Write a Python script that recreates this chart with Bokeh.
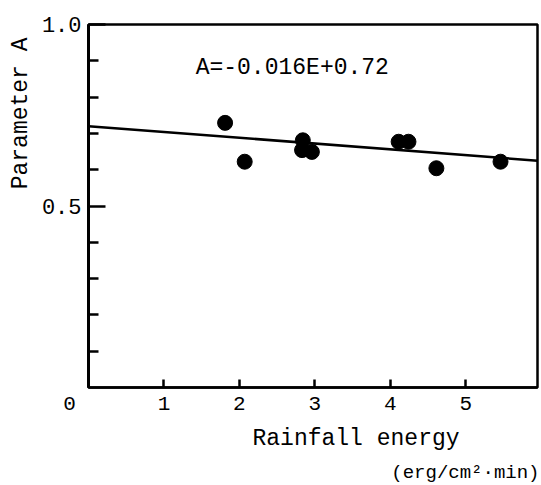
from bokeh.embed import file_html
from bokeh.models import FixedTicker, Label, NumeralTickFormatter, Range1d, Title
from bokeh.plotting import figure
from bokeh.resources import INLINE

# Measured rainfall energy vs. fitted parameter A
energy = [1.81, 2.07, 2.84, 2.83, 2.96, 4.11, 4.24, 4.61, 5.46]
param_a = [0.729, 0.622, 0.681, 0.654, 0.649, 0.677, 0.677, 0.604, 0.622]

# Regression line A = slope * E + intercept
slope = -0.016
intercept = 0.72
fit_x = [0.0, 5.95]
fit_y = [slope * e + intercept for e in fit_x]

x_ticks = [0, 1, 2, 3, 4, 5]
y_major = [0.5, 1.0]
y_minor = [0.1, 0.2, 0.3, 0.4, 0.6, 0.7, 0.8, 0.9]

MONO = "Liberation Mono"
NBSP = "\u00a0"

p = figure(
    width=541, height=485,
    x_range=Range1d(0, 5.95), y_range=Range1d(0, 1.0),
    output_backend="svg", toolbar_location=None,
    min_border_left=88, min_border_right=4,
    min_border_top=24, min_border_bottom=97,
)
p.grid.visible = False
p.outline_line_color = "black"
p.outline_line_width = 2.5
p.background_fill_color = "white"
p.border_fill_color = "white"

# x axis: inward ticks only; the origin label sits left of the corner
xa = p.xaxis[0]
xa.ticker = FixedTicker(ticks=x_ticks)
xa.major_label_overrides = {0: "0" + NBSP * 3}
xa.axis_line_width = 2.5
xa.major_tick_in = 8
xa.major_tick_out = 0
xa.minor_tick_line_color = None
xa.major_tick_line_width = 2.5
xa.major_label_text_font = MONO
xa.major_label_text_font_size = "21px"
xa.major_label_text_color = "black"
xa.major_label_standoff = 5

# y axis: long tick at labelled values, short ticks every 0.1
ya = p.yaxis[0]
ya.ticker = FixedTicker(ticks=y_major, minor_ticks=y_minor)
ya.formatter = NumeralTickFormatter(format="0.0")
ya.axis_line_width = 3
ya.major_tick_in = 17
ya.major_tick_out = 0
ya.minor_tick_in = 10
ya.minor_tick_out = 0
ya.major_tick_line_width = 2.5
ya.minor_tick_line_width = 2.5
ya.minor_tick_line_color = "black"
ya.major_label_text_font = MONO
ya.major_label_text_font_size = "22px"
ya.major_label_text_color = "black"
ya.major_label_standoff = 7

# fitted line and observations
p.line(fit_x, fit_y, line_color="black", line_width=2.5)
p.scatter(energy, param_a, size=15, fill_color="black", line_color="black")

p.add_layout(Label(
    x=1.42, y=0.879, text="A=-0.016E+0.72", text_font=MONO,
    text_font_size="23px", text_color="black",
    text_align="left", text_baseline="middle"))


def side_title(text, place, size, align, offset, standoff):
    p.add_layout(Title(
        text=text, align=align, offset=offset, standoff=standoff,
        text_font=MONO, text_font_size=size, text_font_style="normal",
        text_color="black"), place)


side_title("Parameter A", "left", "23px", "right", 13, 10)
side_title("Rainfall energy", "below", "23px", "left", 164, 11)
side_title("(erg/cm²·min)", "below", "19px", "right", -2, 4)

open("out.html", "w").write(file_html(p, INLINE))
